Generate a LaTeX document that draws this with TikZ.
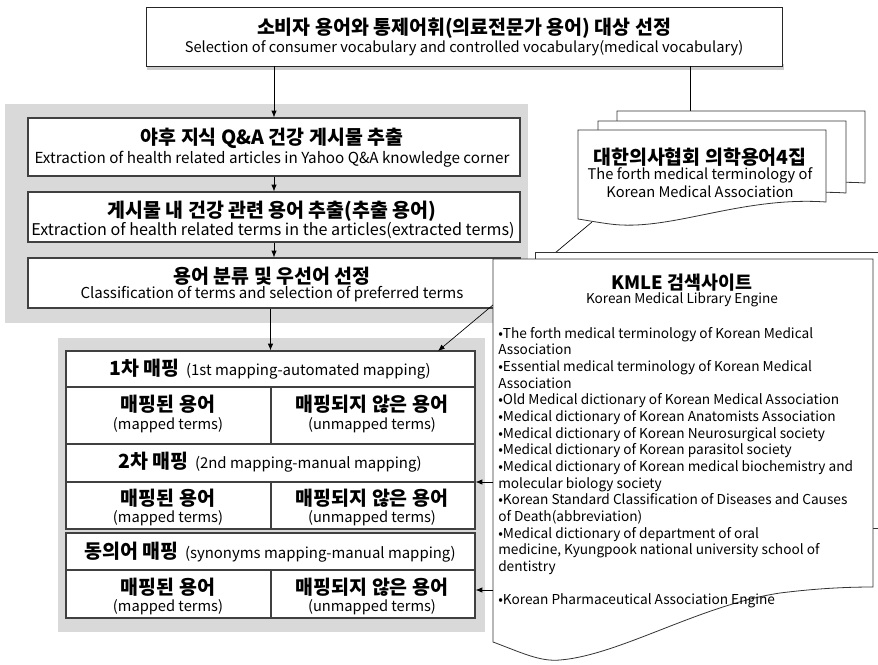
\documentclass[tikz,border=0pt]{standalone}
\usepackage{fontspec}
\setmainfont{Noto Sans CJK KR}
\usetikzlibrary{arrows.meta,fit}

\tikzset{
  grp/.style={fill=black!15, draw=none, inner sep=0pt},
  topbox/.style={draw=black!85, line width=0.7pt, fill=white, inner sep=0pt},
  stepbox/.style={draw=black!75, line width=1pt, fill=white, inner sep=0pt},
  cellbox/.style={draw=black!75, line width=0.9pt, fill=white, inner sep=0pt},
  doc/.style={draw=black!80, line width=0.6pt, fill=white},
  arr/.style={-{Latex[length=5pt,width=4pt]}, line width=0.5pt},
  kor/.style={inner sep=0pt, font=\fontsize{14.6}{16}\selectfont\bfseries},
  eng/.style={inner sep=0pt, font=\fontsize{11}{13}\selectfont},
}

\begin{document}
\begin{tikzpicture}[x=0.75pt,y=0.75pt,yscale=-1]
\useasboundingbox (0,0) rectangle (878,664);
\clip (0,0) rectangle (878,664);

% Selection box
\fill[black!20] (147,64) rectangle (784,70);
\node[topbox, fit={(146,7) (782,66)}] (sel) {};
\node[kor] (selKo) at (464,28) {소비자 용어와 통제어휘(의료전문가 용어) 대상 선정};
\node[eng] (selEn) at (464,48) {Selection of consumer vocabulary and controlled vocabulary(medical vocabulary)};

% Extraction steps
\node[grp, fit={(5,104) (528,323)}] (grp1) {};
\node[stepbox, fit={(28,118) (520,176)}] (yahoo) {};
\node[stepbox, fit={(28,192) (520,242)}] (extr) {};
\node[stepbox, fit={(28,258) (520,308)}] (clas) {};
\node[kor] (yahooKo) at (272,138) {야후 지식 Q\&A 건강 게시물 추출};
\node[eng, font=\fontsize{11.4}{13}\selectfont] (yahooEn) at (272,159) {Extraction of health related articles in Yahoo Q\&A knowledge corner};
\node[kor] (extrKo) at (272,211) {게시물 내 건강 관련 용어 추출(추출 용어)};
\node[eng, font=\fontsize{12.1}{13}\selectfont] (extrEn) at (273,230) {Extraction of health related terms in the articles(extracted terms)};
\node[kor] (clasKo) at (272,276) {용어 분류 및 우선어 선정};
\node[eng, font=\fontsize{11.3}{13}\selectfont] (clasEn) at (272,294) {Classification of terms and selection of preferred terms};

% Mapping table
\node[grp, fit={(58,338) (485,632)}] (grp2) {};
\node[cellbox, fit={(66,351) (475,387)}] (map1) {};
\node[cellbox, fit={(66,387) (271,444)}] (map1y) {};
\node[cellbox, fit={(271,387) (475,444)}] (map1n) {};
\node[cellbox, fit={(66,444) (475,482)}] (map2) {};
\node[cellbox, fit={(66,482) (271,529)}] (map2y) {};
\node[cellbox, fit={(271,482) (475,529)}] (map2n) {};
\node[cellbox, fit={(66,533) (475,570)}] (map3) {};
\node[cellbox, fit={(66,570) (271,618)}] (map3y) {};
\node[cellbox, fit={(271,570) (475,618)}] (map3n) {};

\node[eng, font=\fontsize{11.2}{13}\selectfont] (map1Tx) at (270,369) {\textbf{\fontsize{14.6}{16}\selectfont 1차 매핑}\ \ (1st mapping-automated mapping)};
\node[eng, font=\fontsize{11.2}{13}\selectfont] (map2Tx) at (270,462) {\textbf{\fontsize{14.6}{16}\selectfont 2차 매핑}\ \ (2nd mapping-manual mapping)};
\node[eng, font=\fontsize{11.2}{13}\selectfont] (map3Tx) at (270,552) {\textbf{\fontsize{14.6}{16}\selectfont 동의어 매핑}\ \ (synonyms mapping-manual mapping)};
\foreach \nm/\yk/\ye in {one/404/425, two/498/518, three/587/607} {
  \node[kor] (\nm YesKo) at (168,\yk) {매핑된 용어};
  \node[eng] (\nm YesEn) at (168,\ye) {(mapped terms)};
  \node[kor] (\nm NoKo) at (372,\yk) {매핑되지 않은 용어};
  \node[eng] (\nm NoEn) at (372,\ye) {(unmapped terms)};
}

% connector ends
\coordinate (kmaIn) at (690,121);
\coordinate (kmaOut) at (592,222);
\coordinate (mapIn) at (438,351);
\coordinate (kmleA) at (493,482);
\coordinate (kmleB) at (493,590);

\draw[arr] (sel.south -| yahoo.north) -- (yahoo.north);
\draw[arr] (yahoo) -- (extr);
\draw[arr] (extr) -- (clas);
\draw[arr] (clas.south -| map1.north) -- (map1.north);
\draw[arr] (sel.south -| kmaIn) -- (kmaIn);
\draw[arr] (kmaOut) -- (mapIn);

% KMA terminology, stacked pages
\foreach \dx/\dy in {39/-19, 20/-9, 0/0}
  \draw[doc, shift={(\dx,\dy)}] (578,130) -- (826,130) -- (826,202)
    .. controls (740,196) and (670,232) .. (610,224)
    .. controls (595,222) and (585,220) .. (578,219) -- cycle;
\node[kor] (kmaKo) at (700,157) {대한의사협회 의학용어4집};
\node[eng] (kmaEnA) at (700,175) {The forth medical terminology of};
\node[eng] (kmaEnB) at (700,191.5) {Korean Medical Association};

% KMLE pages
\draw[doc] (535,252) -- (910,252) -- (910,528) -- (535,528) -- cycle;
\draw[doc] (493,259) -- (873,259) -- (873,587)
  .. controls (850,587) and (820,588) .. (780,593)
  .. controls (700,605) and (620,655) .. (560,660)
  .. controls (540,662) and (520,652) .. (493,642) -- cycle;
\node[kor, font=\fontsize{13.8}{16}\selectfont\bfseries] (kmleKo) at (682,283) {KMLE 검색사이트};
\node[eng, font=\fontsize{10.2}{12}\selectfont] (kmleEn) at (682,300) {Korean Medical Library Engine};
\node[anchor=north west, align=left, inner sep=0pt, font=\fontsize{10.25}{12.5}\selectfont] (kmleList) at (498,327)
  {•The forth medical terminology of Korean Medical\\
   Association\\
   •Essential medical terminology of Korean Medical\\
   Association\\
   •Old Medical dictionary of Korean Medical Association\\
   •Medical dictionary of Korean Anatomists Association\\
   •Medical dictionary of Korean Neurosurgical society\\
   •Medical dictionary of Korean parasitol society\\
   •Medical dictionary of Korean medical biochemistry and\\
   molecular biology society\\
   •Korean Standard Classification of Diseases and Causes\\
   of Death(abbreviation)\\
   •Medical dictionary of department of oral\\
   medicine, Kyungpook national university school of\\
   dentistry\\[12.5pt]
   •Korean Pharmaceutical Association Engine};

\draw[arr] (kmleA) -- (map2n.east |- kmleA);
\draw[arr] (kmleB) -- (map3n.east |- kmleB);

\end{tikzpicture}
\end{document}
